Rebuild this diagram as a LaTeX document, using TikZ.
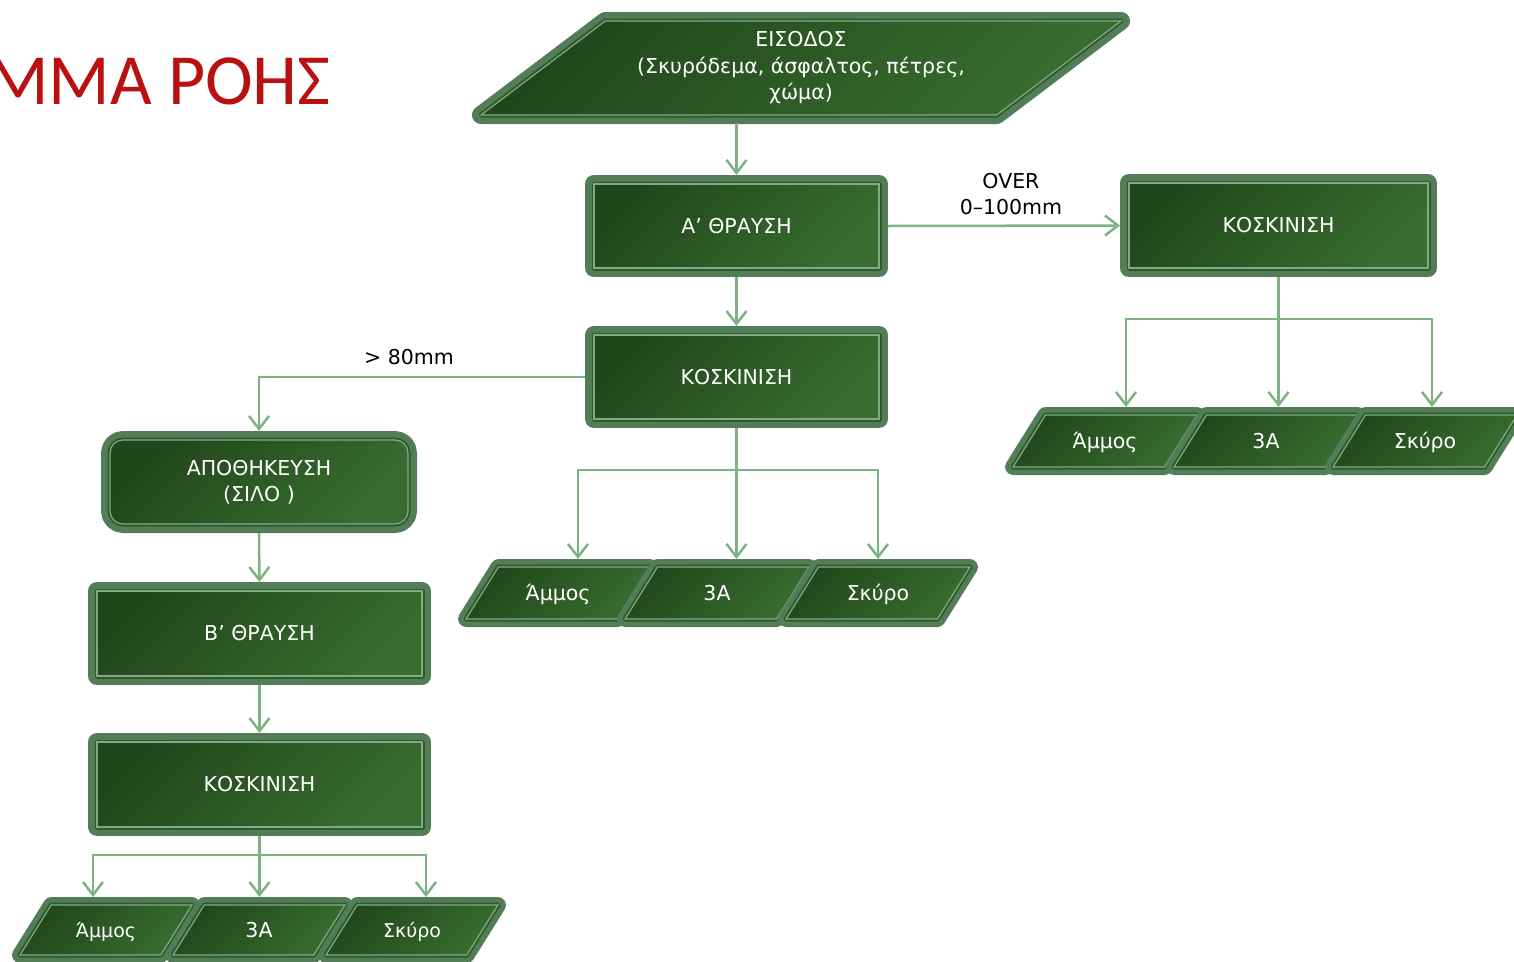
\documentclass[tikz,border=0pt]{standalone}
\usepackage{fontspec}
\setmainfont{DejaVu Sans}
\newfontfamily\titlefont{Carlito}
\usetikzlibrary{shapes.geometric,arrows.meta}
\definecolor{frameg}{HTML}{527D57}
\definecolor{edgeg}{HTML}{2F5A2C}
\definecolor{lineg}{HTML}{82AA84}
\definecolor{darkg}{HTML}{22461C}
\definecolor{lightg}{HTML}{386D2F}
\definecolor{linkg}{HTML}{7DB380}
\definecolor{titlered}{HTML}{BA1010}
\begin{document}
\begin{tikzpicture}[
  box/.style={rectangle, top color=darkg, bottom color=lightg, shading angle=45,
    draw=lineg, line width=1.2pt,
    preaction={draw=frameg, line width=18pt, line join=round},
    preaction={draw=edgeg, line width=5pt, line join=round},
    outer sep=9pt, text=white, align=center,
    font=\fontsize{20.5}{26.5}\selectfont},
  para/.style={trapezium, trapezium left angle=58, trapezium right angle=122,
    trapezium stretches body, top color=darkg, bottom color=lightg,
    shading angle=45, draw=lineg, line width=1.2pt,
    preaction={draw=frameg, line width=16pt, line join=round},
    preaction={draw=edgeg, line width=5pt, line join=round},
    outer sep=8pt, minimum width=184pt, inner ysep=0pt,
    text height=33.5pt, text depth=18.5pt, text=white,
    font=\fontsize{20.5}{26.5}\selectfont},
  small/.style={minimum width=172pt, text height=32.5pt, text depth=17.5pt},
  lbl/.style={align=center, font=\fontsize{20.5}{26}\selectfont},
  link/.style={draw=linkg, line width=2.5pt},
  arr/.style={link, -{Straight Barb[length=13pt,width=20pt]}}
]
\begin{scope}[x=1pt,y=-1pt]
\useasboundingbox (0,0) rectangle (1514,961);
\node [anchor=base east, inner sep=0pt, text=titlered,
  font=\titlefont\fontsize{72}{80}\selectfont] (title) at (331,104) {ΜΜΑ ΡΟΗΣ};
% input and first crushing
\node [para, trapezium left angle=32.5, trapezium right angle=147.5,
  minimum width=640pt, minimum height=94pt, inner ysep=3.33pt,
  text height=, text depth=, align=center,
  preaction={draw=frameg, line width=18pt, line join=round},
  preaction={draw=edgeg, line width=5pt, line join=round}] (eisodos) at (801,68)
  {ΕΙΣΟΔΟΣ\\(Σκυρόδεμα, άσφαλτος, πέτρες,\\χώμα)};
\node [box, minimum width=285pt, minimum height=84pt] (thr1) at (736.5,226) {Α’ ΘΡΑΥΣΗ};
\node [box, minimum width=285pt, minimum height=84pt] (kosk1) at (736.5,377) {ΚΟΣΚΙΝΙΣΗ};
\node [box, minimum width=299pt, minimum height=85pt] (kosk2) at (1278.5,225.5) {ΚΟΣΚΙΝΙΣΗ};
\node [box, rounded corners=13pt, minimum width=298pt, minimum height=84pt] (silo)
  at (259,482) {ΑΠΟΘΗΚΕΥΣΗ\\(ΣΙΛΟ )};
\node [box, minimum width=325pt, minimum height=85pt] (thr2) at (259.5,633.5) {Β’ ΘΡΑΥΣΗ};
\node [box, minimum width=325pt, minimum height=85pt] (kosk3) at (259.5,784.5) {ΚΟΣΚΙΝΙΣΗ};
% products
\node [para] (ammos1) at (558,593) {Άμμος};
\node [para] (tria1) at (717,593) {3A};
\node [para] (skyro1) at (878,593) {Σκύρο};
\node [para] (ammos2) at (1105,441) {Άμμος};
\node [para] (tria2) at (1266,441) {3A};
\node [para] (skyro2) at (1425,441) {Σκύρο};
\node [para, small, font=\fontsize{19}{22}\selectfont] (ammos3) at (106,930) {Άμμος};
\node [para, small] (tria3) at (259,930) {3A};
\node [para, small, font=\fontsize{19}{22}\selectfont] (skyro3) at (412,930) {Σκύρο};
% connectors
\draw [arr] (eisodos.south -| thr1.north) -- (thr1.north);
\draw [arr] (thr1.east) -- node [lbl, pos=0.53, above=6pt] {OVER\\0–100mm} (kosk2.west);
\draw [arr] (thr1.south) -- (kosk1.north);
\draw [arr] (kosk1.west) -| node [lbl, pos=0.27, above=8pt] {> 80mm} (silo.north);
\draw [arr] (silo.south) -- (thr2.north);
\draw [arr] (thr2.south) -- (kosk3.north);
\coordinate (bus1) at (kosk1.south |- 0,470);
\draw [arr] (kosk1.south) -- (kosk1.south |- tria1.north);
\draw [arr] (bus1) -| ([xshift=20pt]ammos1.north);
\draw [arr] (bus1) -| (skyro1.north);
\coordinate (bus2) at (kosk2.south |- 0,319);
\draw [arr] (kosk2.south) -- (kosk2.south |- tria2.north);
\draw [arr] (bus2) -| ([xshift=21pt]ammos2.north);
\draw [arr] (bus2) -| ([xshift=7pt]skyro2.north);
\coordinate (bus3) at (kosk3.south |- 0,855);
\draw [arr] (kosk3.south) -- (kosk3.south |- tria3.north);
\draw [arr] (bus3) -| ([xshift=-13pt]ammos3.north);
\draw [arr] (bus3) -| ([xshift=14pt]skyro3.north);
\end{scope}
\end{tikzpicture}
\end{document}
